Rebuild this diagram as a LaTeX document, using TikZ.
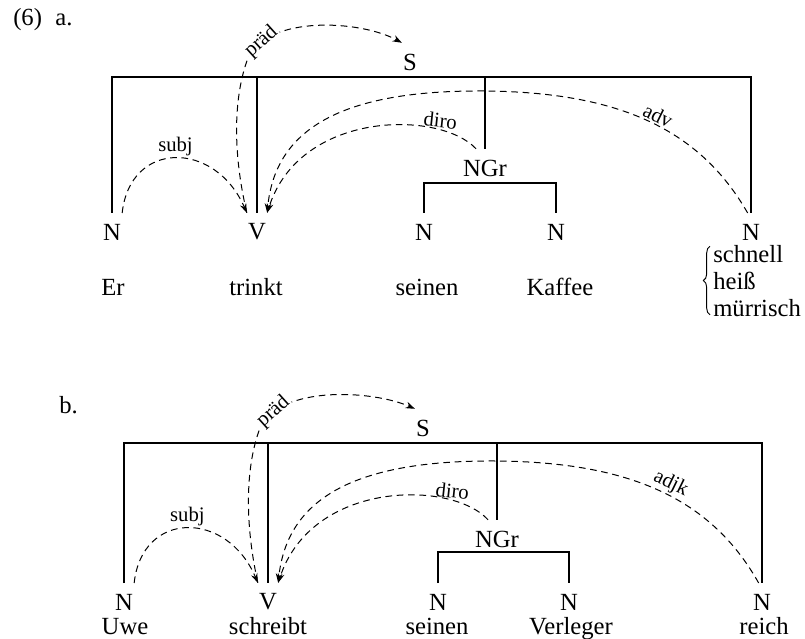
\documentclass[tikz,border=0pt]{standalone}
\usepackage{fontspec}
\setmainfont{Liberation Serif}
\usetikzlibrary{arrows.meta,decorations.pathreplacing}

\begin{document}
\begin{tikzpicture}[x=0.75pt,y=0.75pt,yscale=-1,xscale=1,
  cat/.style={inner xsep=0.75pt,inner ysep=8pt,font=\fontsize{18.5}{22}\selectfont},
  word/.style={inner sep=0.75pt,font=\fontsize{18.5}{20}\selectfont},
  rel/.style={inner sep=1pt,font=\fontsize{15.5}{17}\selectfont},
  tree/.style={line width=1pt},
  dep/.style={line width=0.75pt,dash pattern=on 5pt off 3.5pt,-{Stealth[length=7pt,width=5pt]}}]
\path [use as bounding box] (0,0) rectangle (805,638);

% Text Node
\draw (12,26) node [word,anchor=base west] (laba) {(6)\hspace{10pt}a.};
% Text Node
\draw (410,62) node [cat] (Sa) {S};
% Text Node
\draw (112,232) node [cat] (Na) {N};
% Text Node
\draw (257,232) node [cat] (Va) {V};
% Text Node
\draw (485,168) node [cat] (NGra) {NGr};
% Text Node
\draw (424,232) node [cat] (Na1) {N};
% Text Node
\draw (556,232) node [cat] (Na2) {N};
% Text Node
\draw (751,232) node [cat] (Na3) {N};
% Text Node
\draw (113,295) node [word,anchor=base] (Er) {Er};
% Text Node
\draw (256,295) node [word,anchor=base] (trinkt) {trinkt};
% Text Node
\draw (427,295) node [word,anchor=base] (seinena) {seinen};
% Text Node
\draw (560,295) node [word,anchor=base] (Kaffee) {Kaffee};
% Text Node
\draw (712,262) node [word,anchor=base west] (schnell) {schnell};
% Text Node
\draw (712,289) node [word,anchor=base west] (heiss) {heiß};
% Text Node
\draw (712,316) node [word,anchor=base west] (muerrisch) {mürrisch};

%Brace
\draw [decorate,decoration={brace,amplitude=5pt},line width=0.7pt] ([xshift=-1.5pt,yshift=-2pt]muerrisch.south west) -- ([xshift=-1.5pt,yshift=2pt]schnell.north west);

%Straight Lines
\coordinate (topa) at (0,77);
\coordinate (ngra) at (0,183);
\draw [tree] (Na.north) -- (Na.north |- topa) -- (Na3.north |- topa) -- (Na3.north);
\draw [tree] (Va.north) -- (Va.north |- topa);
\draw [tree] (NGra.north) -- (NGra.north |- topa);
\draw [tree] (Na1.north) -- (Na1.north |- ngra) -- (Na2.north |- ngra) -- (Na2.north);

%Curve Lines
\draw [dep] (Va.north west) .. controls (232,150) and (234,95) .. (248,58) .. controls (268,15) and (360,20) .. node [rel,pos=0.15,rotate=42,fill=white] {präd} (Sa.north west);
\draw [dep] (Na.north east) .. controls (130,140) and (215,140) .. node [rel,midway,above] {subj} (Va.north west);
\draw [dep] (NGra.115) .. controls (440,110) and (300,110) .. node [rel,pos=0.22,above,rotate=-6] {diro} (Va.north east);
\draw [dep] (Na3.100) .. controls (700,130) and (620,92) .. node [rel,pos=0.48,above,rotate=-26] {adv} (484,91) .. controls (340,90) and (275,130) .. (Va.north east);

% Text Node
\draw (58,413) node [word,anchor=base west] (labb) {b.};
% Text Node
\draw (423,428) node [cat] (Sb) {S};
% Text Node
\draw (124,602) node [cat] (Nb) {N};
% Text Node
\draw (268,602) node [cat] (Vb) {V};
% Text Node
\draw (497,539) node [cat] (NGrb) {NGr};
% Text Node
\draw (438,602) node [cat] (Nb1) {N};
% Text Node
\draw (569,602) node [cat] (Nb2) {N};
% Text Node
\draw (762,602) node [cat] (Nb3) {N};
% Text Node
\draw (125,634) node [word,anchor=base] (Uwe) {Uwe};
% Text Node
\draw (268,634) node [word,anchor=base] (schreibt) {schreibt};
% Text Node
\draw (437,634) node [word,anchor=base] (seinenb) {seinen};
% Text Node
\draw (571,634) node [word,anchor=base] (Verleger) {Verleger};
% Text Node
\draw (764,634) node [word,anchor=base] (reich) {reich};

%Straight Lines
\coordinate (topb) at (0,443);
\coordinate (ngrb) at (0,552);
\draw [tree] (Nb.north) -- (Nb.north |- topb) -- (Nb3.north |- topb) -- (Nb3.north);
\draw [tree] (Vb.north) -- (Vb.north |- topb);
\draw [tree] (NGrb.north) -- (NGrb.north |- topb);
\draw [tree] (Nb1.north) -- (Nb1.north |- ngrb) -- (Nb2.north |- ngrb) -- (Nb2.north);

%Curve Lines
\draw [dep] (Vb.north west) .. controls (244,520) and (246,465) .. (260,428) .. controls (280,385) and (372,390) .. node [rel,pos=0.15,rotate=42,fill=white] {präd} (Sb.north west);
\draw [dep] (Nb.north east) .. controls (142,510) and (227,510) .. node [rel,midway,above] {subj} (Vb.north west);
\draw [dep] (NGrb.115) .. controls (452,480) and (312,480) .. node [rel,pos=0.22,above,rotate=-6] {diro} (Vb.north east);
\draw [dep] (Nb3.100) .. controls (712,500) and (632,462) .. node [rel,pos=0.48,above,rotate=-26] {adjk} (496,461) .. controls (352,460) and (287,500) .. (Vb.north east);

\end{tikzpicture}
\end{document}
